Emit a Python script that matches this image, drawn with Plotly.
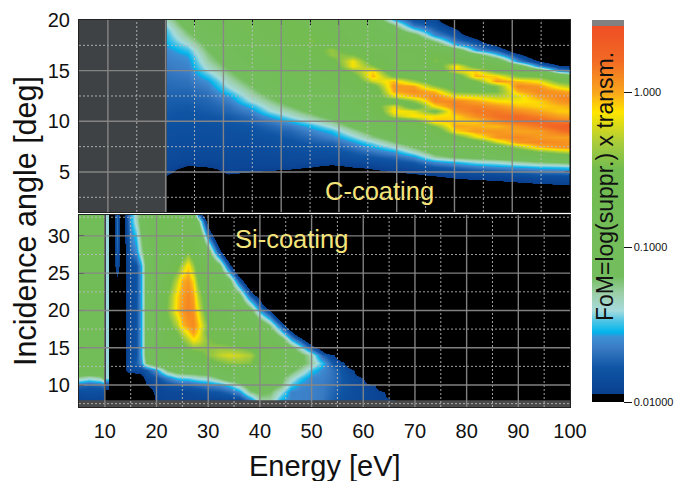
import plotly.graph_objects as go

# ---------- top panel (C-coating): log10(FoM), one list per energy column ----------
# values below the colour range simply read as black
top_energy = [20.2, 23.75, 27.3, 30.9, 34.5, 38, 41.6, 45.2, 48.7, 52.3, 55.9, 59.5, 63, 66.6, 70.2, 73.7, 77.3, 80.9, 84.5, 88, 89.8]
top_angle = [3, 3.5, 4, 4.5, 5, 5.5, 6, 6.5, 7, 7.5, 8, 8.5, 9, 9.5, 10, 10.5, 11, 11.5, 12, 12.5,
             13, 13.5, 14, 14.5, 15, 15.5, 16, 16.5, 17, 17.5, 18, 18.5, 19, 19.5, 20]
top_columns = [
 [-2.27,-2.17,-2.07,-1.97, -1.9,-1.88,-1.87,-1.86, -1.85,-1.85,-1.84,-1.83, -1.82,-1.81,-1.8,-1.78, -1.77,-1.76,-1.75,-1.74, -1.72,-1.71,-1.7,-1.68, -1.67,-1.65,-1.64,-1.62, -1.6,-1.56,-1.53,-1.51, -1.48,-1.42,-1.34],
 [-2.5,-2.45,-2.3,-2.17, -2.07,-1.97,-1.9,-1.88, -1.87,-1.86,-1.85,-1.84, -1.83,-1.82,-1.81,-1.8, -1.78,-1.77,-1.75,-1.74, -1.72,-1.7,-1.68,-1.66, -1.64,-1.62,-1.6,-1.56, -1.5,-1.42,-1.33,-1.25, -1.18,-1.1,-1.05],
 [-2.5,-2.4,-2.25,-2.15, -2.05,-1.95,-1.9,-1.88, -1.87,-1.86,-1.85,-1.84, -1.83,-1.82,-1.8,-1.78, -1.76,-1.74,-1.72,-1.7, -1.67,-1.63,-1.58,-1.5, -1.42,-1.36,-1.3,-1.25, -1.2,-1.14,-1.08,-1.02, -0.98,-0.95,-0.92],
 [-2.31,-2.21,-2.11,-2.01, -1.91,-1.89,-1.88,-1.87, -1.86,-1.85,-1.84,-1.83, -1.82,-1.8,-1.78,-1.76, -1.72,-1.69,-1.64,-1.58, -1.48,-1.4,-1.34,-1.28, -1.22,-1.16,-1.1,-1.04, -1,-0.96,-0.93,-0.9, -0.88,-0.86,-0.84],
 [-2.35,-2.25,-2.15,-2.05, -1.95,-1.9,-1.88,-1.87, -1.86,-1.85,-1.84,-1.82, -1.8,-1.78,-1.74,-1.7, -1.63,-1.54,-1.42,-1.35, -1.28,-1.22,-1.15,-1.08, -1.02,-0.98,-0.94,-0.9, -0.88,-0.86,-0.84,-0.82, -0.8,-0.8,-0.78],
 [-2.37,-2.27,-2.17,-2.07, -1.97,-1.9,-1.88,-1.87, -1.85,-1.84,-1.82,-1.8, -1.76,-1.72,-1.66,-1.55, -1.42,-1.34,-1.26,-1.18, -1.1,-1.04,-0.98,-0.94, -0.9,-0.87,-0.85,-0.83, -0.81,-0.79,-0.77,-0.75, -0.75,-0.74,-0.72],
 [-2.41,-2.31,-2.21,-2.11, -2.01,-1.91,-1.88,-1.86, -1.84,-1.82,-1.8,-1.76, -1.72,-1.65,-1.53,-1.4, -1.3,-1.2,-1.1,-1.02, -0.96,-0.92,-0.88,-0.85, -0.82,-0.8,-0.78,-0.76, -0.74,-0.7,-0.66,-0.62, -0.6,-0.6,-0.62],
 [-2.45,-2.35,-2.25,-2.15, -2.05,-1.95,-1.88,-1.86, -1.83,-1.8,-1.75,-1.7, -1.62,-1.53,-1.38,-1.26, -1.14,-1.04,-0.98,-0.92, -0.88,-0.85,-0.82,-0.8, -0.78,-0.75,-0.72,-0.68, -0.62,-0.52,-0.45,-0.52, -0.6,-0.65,-0.68],
 [-2.49,-2.39,-2.29,-2.19, -2.09,-1.99,-1.9,-1.86, -1.82,-1.78,-1.72,-1.62, -1.52,-1.38,-1.24,-1.12, -1.02,-0.95,-0.9,-0.86, -0.84,-0.82,-0.8,-0.76, -0.72,-0.68,-0.58,-0.4, -0.38,-0.55,-0.68,-0.72, -0.74,-0.75,-0.75],
 [-2.45,-2.35,-2.25,-2.15, -2.05,-1.95,-1.88,-1.82, -1.76,-1.68,-1.58,-1.45, -1.3,-1.16,-1.05,-0.97, -0.92,-0.88,-0.85,-0.82, -0.8,-0.75,-0.7,-0.62, -0.42,-0.15,-0.15,-0.45, -0.65,-0.72,-0.78,-0.8, -0.8,-0.8,-0.82],
 [-2.39,-2.29,-2.19,-2.09, -1.99,-1.92,-1.85,-1.78, -1.68,-1.56,-1.42,-1.25, -1.12,-1.0,-0.92,-0.86, -0.8,-0.65,-0.5,-0.68, -0.74,-0.6,-0.25,-0.03, -0.1,-0.42,-0.62,-0.72, -0.78,-0.82,-0.85,-0.87, -0.88,-0.88,-0.9],
 [-2.35,-2.25,-2.15,-2.05, -1.95,-1.88,-1.82,-1.72, -1.58,-1.4,-1.22,-1.08, -0.98,-0.9,-0.84,-0.3, -0.1,-0.2,-0.72,-0.2, 0.0,0.05,-0.05,-0.5, -0.75,-0.82,-0.82,-0.8, -0.82,-0.85,-0.9,-0.95, -1.05,-1.2,-1.5],
 [-2.31,-2.21,-2.11,-2.01, -1.92,-1.85,-1.76,-1.6, -1.38,-1.2,-1.06,-0.9, -0.88,-0.82,-0.6,-0.12, -0.18,-0.7,-0.4,-0.02, 0.08,0.02,-0.35,-0.65, -0.78,-0.82,-0.82,-0.8, -0.68,-0.78,-0.9,-1.1, -1.42,-1.68,-1.8],
 [-2.27,-2.17,-2.07,-1.97, -1.88,-1.78,-1.6,-1.3, -1.12,-1.0,-0.9,-0.84, -0.75,-0.45,-0.06,-0.12, -0.55,-0.12,0.08,0.1, -0.05,-0.4,-0.68,-0.78, -0.8,-0.7,-0.45,-0.5, -0.8,-1.0,-1.3,-1.6, -1.72,-1.8,-1.85],
 [-2.21,-2.11,-2.01,-1.93, -1.85,-1.72,-1.52,-1.18, -1.02,-0.92,-0.85,-0.6, -0.1,0.0,-0.08,-0.1, 0.05,0.12,0.1,-0.15, -0.5,-0.72,-0.8,-0.72, -0.2,-0.1,-0.6,-0.8, -1.0,-1.5,-1.7,-1.8, -1.9,-2.05,-2.3],
 [-2.19,-2.09,-1.99,-1.91, -1.82,-1.65,-1.42,-1.12, -0.98,-0.88,-0.7,-0.2, 0.03,-0.02,-0.08,0.08, 0.15,0.12,0.0,-0.2, -0.55,-0.72,-0.5,-0.02, -0.1,-0.6,-0.75,-1.05, -1.55,-1.72,-1.88,-2.1, -2.4,-2.8,-3],
 [-2.17,-2.07,-1.97,-1.9, -1.8,-1.6,-1.38,-1.08, -0.92,-0.72,-0.25,0.05, 0.05,-0.05,0.1,0.18, 0.15,0.05,-0.12,-0.3, -0.5,-0.45,0.05,-0.1, -0.55,-0.7,-0.95,-1.45, -1.75,-1.98,-2.3,-2.6, -3,-3,-3],
 [-2.15,-2.05,-1.95,-1.88, -1.75,-1.56,-1.3,-1.0, -0.75,-0.35,0.05,0.1, 0.0,0.05,0.2,0.2, 0.08,-0.05,-0.15,-0.2, -0.02,0.1,-0.05,-0.45, -0.65,-1.0,-1.6,-1.85, -2.15,-2.4,-2.8,-3, -3,-3,-3],
 [-2.13,-2.03,-1.92,-1.85, -1.7,-1.52,-1.22,-0.95, -0.5,-0.05,0.1,0.04, 0.02,0.15,0.22,0.12, 0.0,-0.1,-0.1,0.03, 0.1,0.05,-0.15,-0.5, -0.9,-1.6,-1.95,-2.2, -2.5,-2.8,-3,-3, -3,-3,-3],
 [-2.11,-2.01,-1.9,-1.85, -1.68,-1.5,-1.18,-0.8, -0.35,0.05,0.08,0.02, 0.15,0.26,0.15,0.02, -0.08,-0.05,0.05,0.1, 0.03,-0.2,-0.5,-0.8, -1.55,-1.9,-2.2,-2.5, -2.8,-3,-3,-3, -3,-3,-3],
 [-2.11,-2.01,-1.9,-1.85, -1.66,-1.48,-1.15,-0.75, -0.3,0.07,0.05,0.02, 0.2,0.3,0.12,0.0, -0.08,-0.02,0.08,0.1, -0.03,-0.3,-0.55,-1.0, -1.6,-1.95,-2.25,-2.55, -2.85,-3,-3,-3, -3,-3,-3],
]
top_z = [list(row) for row in zip(*top_columns)]

# ---------- bottom panel (Si-coating): log10(FoM), one list per angle row ----------
bottom_energy = [5, 7, 9, 9.7, 9.9, 10.1, 10.3, 10.7, 10.9, 11.7, 12.3, 12.9, 13.7,
                 14.5, 15, 16, 17, 18,
                 20, 22, 24, 25, 26, 27, 28,
                 30, 32, 34, 36, 38,
                 40, 42, 44, 46, 48,
                 50, 52, 54, 56, 58,
                 60, 62, 64, 66, 68, 100]
bottom_angle = [8, 9, 10, 11, 12, 13, 14, 15, 16, 17, 18, 20, 22, 24, 26, 28, 30, 32, 33]
bottom_left = [
 [-1.9,-1.9,-1.9,-1.9,-2,-2,-2,-2,-2,-2,-2,-2,-2],
 [-1.84,-1.82,-1.84,-1.82,-2,-2,-2,-2,-2,-2,-2,-2,-2],
 [-1.7,-1.75,-1.72,-1.68,-2,-2,-1.85,-1.85,-2,-2,-2,-2,-2],
 [-1.3,-1.38,-1.3,-1.2,-2,-2,-1.42,-1.42,-2,-2,-2,-2,-2],
 [-0.9,-0.9,-0.9,-0.9,-2,-2,-1.42,-1.42,-2,-2,-2,-2,-2],
 [-0.9,-0.9,-0.9,-0.9,-2,-2,-1.42,-1.42,-2,-2,-2,-2,-2],
 [-0.9,-0.9,-0.9,-0.9,-2,-2,-1.42,-1.42,-2,-2,-2,-2,-2],
 [-0.9,-0.9,-0.9,-0.9,-2,-2,-1.42,-1.42,-2,-2,-2,-2,-2],
 [-0.9,-0.9,-0.9,-0.9,-2,-2,-1.42,-1.42,-2,-2,-2,-2,-2],
 [-0.9,-0.9,-0.9,-0.9,-2,-2,-1.42,-1.42,-2,-2,-2,-2,-2],
 [-0.9,-0.9,-0.9,-0.9,-2,-2,-1.42,-1.42,-2,-2,-2,-2,-2],
 [-0.9,-0.9,-0.9,-0.9,-2,-2,-1.42,-1.42,-2,-2,-2,-2,-2],
 [-0.9,-0.9,-0.9,-0.9,-2,-2,-1.42,-1.42,-2,-2,-2,-2,-2],
 [-0.9,-0.9,-0.9,-0.9,-2,-2,-1.42,-1.42,-2,-2,-2,-2,-2],
 [-0.9,-0.9,-0.9,-0.9,-2,-2,-1.42,-1.42,-2,-2,-1.85,-2,-2],
 [-0.9,-0.9,-0.9,-0.9,-2,-2,-1.42,-1.42,-2,-2,-1.75,-2,-2],
 [-0.9,-0.9,-0.9,-0.9,-2,-2,-1.42,-1.42,-2,-2,-1.7,-2,-2],
 [-0.9,-0.9,-0.9,-0.9,-2,-2,-1.42,-1.42,-2,-2,-1.7,-2,-2],
 [-0.9,-0.9,-0.9,-0.9,-2,-2,-1.42,-1.42,-2,-2,-1.7,-2,-2],
]
bottom_right = [
 [-2.6,-2.6,-2.6,-2.6,-2.1, -1.92,-1.9,-1.9,-1.9,-1.9,-1.9,-1.9, -1.9,-1.9,-1.9,-1.88,-1.65, -1.3,-1.3,-1.55,-1.62,-1.63, -1.64,-1.66,-1.74,-1.82,-1.85, -1.87,-1.9,-1.92,-1.94,-2.4,-3],
 [-2.5,-2.5,-2.5,-2.5,-2.05, -1.9,-1.88,-1.88,-1.88,-1.88,-1.86,-1.85, -1.8,-1.78,-1.72,-1.6,-1.25, -1.15,-1.2,-1.4,-1.62,-1.63, -1.64,-1.65,-1.72,-1.8,-1.84, -1.86,-1.9,-1.93,-2.2,-3,-3],
 [-2.3,-2.3,-2.3,-2.2,-1.96, -1.88,-1.82,-1.78,-1.75,-1.75,-1.72,-1.7, -1.65,-1.6,-1.5,-1.3,-1.05, -1.05,-1.1,-1.2,-1.48,-1.6, -1.63,-1.65,-1.7,-1.78,-1.84, -1.88,-1.92,-2.2,-3,-3,-3],
 [-2.1,-2.1,-2.1,-2.05,-1.88, -1.8,-1.65,-1.5,-1.48,-1.46,-1.42,-1.38, -1.35,-1.2,-1.0,-0.95,-0.95, -1,-1.05,-1.15,-1.35,-1.5, -1.62,-1.63,-1.68,-1.78,-1.85, -1.92,-2.45,-3,-3,-3,-3],
 [-1.9,-1.88,-1.85,-1.85,-1.78, -1.55,-1.2,-1.05,-1,-1,-1,-1, -0.95,-0.9,-0.85,-0.85,-0.9, -0.95,-1,-1.05,-1.15,-1.3, -1.5,-1.6,-1.68,-1.8,-1.92, -2.35,-3,-3,-3,-3,-3],
 [-1.85,-1.82,-1.75,-1.6,-1.2, -0.95,-0.9,-0.85,-0.85,-0.8,-0.8,-0.75, -0.6,-0.5,-0.42,-0.4,-0.45, -0.7,-0.85,-0.95,-1.05,-1.15, -1.3,-1.5,-1.76,-1.9,-2.3, -3,-3,-3,-3,-3,-3],
 [-1.88,-1.85,-1.8,-1.55,-1.1, -0.9,-0.85,-0.8,-0.75,-0.7,-0.65,-0.6, -0.42,-0.28,-0.22,-0.25,-0.32, -0.6,-0.8,-0.9,-1,-1.15, -1.35,-1.72,-1.88,-2.25,-3, -3,-3,-3,-3,-3,-3],
 [-1.88,-1.85,-1.8,-1.55,-1.1, -0.9,-0.75,-0.65,-0.6,-0.5,-0.4,-0.4, -0.42,-0.38,-0.4,-0.45,-0.55, -0.7,-0.85,-0.95,-1.1,-1.4, -1.78,-2.1,-2.8,-3,-3, -3,-3,-3,-3,-3,-3],
 [-1.88,-1.85,-1.8,-1.55,-1.1, -0.9,-0.7,-0.6,-0.45,-0.3,-0.15,-0.2, -0.45,-0.55,-0.6,-0.65,-0.7, -0.8,-0.9,-1.05,-1.5,-1.8, -2.25,-3,-3,-3,-3, -3,-3,-3,-3,-3,-3],
 [-1.88,-1.85,-1.8,-1.55,-1.1, -0.9,-0.7,-0.5,-0.3,-0.12,0.02,-0.12, -0.55,-0.65,-0.7,-0.75,-0.8, -0.9,-1,-1.4,-1.82,-2.3, -3,-3,-3,-3,-3, -3,-3,-3,-3,-3,-3],
 [-1.88,-1.85,-1.8,-1.55,-1.1, -0.9,-0.6,-0.3,-0.05,0.05,0.1,-0.05, -0.5,-0.7,-0.75,-0.8,-0.85, -0.95,-1.25,-1.75,-2.3,-3, -3,-3,-3,-3,-3, -3,-3,-3,-3,-3,-3],
 [-1.88,-1.85,-1.8,-1.55,-1.1, -0.9,-0.45,-0.08,0.05,0.12,0.06,-0.18, -0.7,-0.75,-0.8,-0.85,-1.1, -1.6,-1.95,-2.6,-3,-3, -3,-3,-3,-3,-3, -3,-3,-3,-3,-3,-3],
 [-1.88,-1.85,-1.8,-1.55,-1.1, -0.9,-0.5,-0.1,0.02,0.1,0.02,-0.3, -0.75,-0.8,-0.85,-1.1,-1.72, -2.1,-2.8,-3,-3,-3, -3,-3,-3,-3,-3, -3,-3,-3,-3,-3,-3],
 [-1.88,-1.85,-1.8,-1.55,-1.1, -0.88,-0.65,-0.25,-0.02,0.04,-0.1,-0.5, -0.8,-0.85,-1.1,-1.75,-2.3, -3,-3,-3,-3,-3, -3,-3,-3,-3,-3, -3,-3,-3,-3,-3,-3],
 [-1.88,-1.85,-1.8,-1.55,-1.1, -0.88,-0.82,-0.55,-0.3,-0.1,-0.35,-0.7, -0.85,-1.1,-1.8,-2.45,-3, -3,-3,-3,-3,-3, -3,-3,-3,-3,-3, -3,-3,-3,-3,-3,-3],
 [-1.82,-1.7,-1.6,-1.3,-1.05, -0.88,-0.85,-0.8,-0.7,-0.5,-0.7,-0.8, -1.1,-1.85,-2.45,-3,-3, -3,-3,-3,-3,-3, -3,-3,-3,-3,-3, -3,-3,-3,-3,-3,-3],
 [-1.78,-1.62,-1.5,-1.2,-1, -0.85,-0.85,-0.8,-0.8,-0.8,-0.8,-0.85, -1.65,-2.3,-3,-3,-3, -3,-3,-3,-3,-3, -3,-3,-3,-3,-3, -3,-3,-3,-3,-3,-3],
 [-1.72,-1.55,-1.35,-1.1,-0.95, -0.85,-0.85,-0.85,-0.85,-0.85,-0.85,-1.2, -2.1,-2.8,-3,-3,-3, -3,-3,-3,-3,-3, -3,-3,-3,-3,-3, -3,-3,-3,-3,-3,-3],
 [-1.72,-1.55,-1.35,-1.1,-0.95, -0.85,-0.85,-0.85,-0.85,-0.85,-0.85,-1.7, -2.35,-3,-3,-3,-3, -3,-3,-3,-3,-3, -3,-3,-3,-3,-3, -3,-3,-3,-3,-3,-3],
]
bottom_z = [a + b for a, b in zip(bottom_left, bottom_right)]

# ---------- colour scale: (log10 value, colour) ----------
Z_MIN, Z_MAX = -2.0, 0.465
colour_stops = [(-2.0, "#000000"), (-1.95, "#000000"), (-1.95, "#0a3f8f"), (-1.78, "#0f55a5"),
                (-1.65, "#3a7cc4"), (-1.58, "#3d90d5"), (-1.55, "#00b4ec"), (-1.48, "#4cc4e6"),
                (-1.41, "#a6dbdd"), (-1.30, "#9ccfa8"), (-1.19, "#74bd5e"), (-0.5, "#72bc50"),
                (-0.33, "#a8cc3c"), (-0.13, "#ffe500"), (0.0, "#f8a51d"), (0.2, "#f26a25"),
                (0.426, "#ee4e24"), (0.426, "#808080"), (0.465, "#808080")]
colourscale = [[(v - Z_MIN) / (Z_MAX - Z_MIN), c] for v, c in colour_stops]
bar_tick_values = [-2, -1, 0]
bar_tick_text = ["0.01000", "0.1000", "1.000"]

# ---------- axis ticks and labels ----------
top_x_major = [10, 20, 30, 40, 50, 60, 70, 80]
top_x_minor = [15, 25, 35, 45, 55, 65, 75, 85]
top_x_ticks = [10, 15, 20, 25, 30, 35, 40, 45, 50, 55, 60, 65, 70, 75, 80, 85]
top_y_major = [5, 10, 15]
top_y_minor = [2.5, 7.5, 12.5, 17.5]
bottom_x_major = [10, 20, 30, 40, 50, 60, 70, 80, 90]
bottom_x_minor = [15, 25, 35, 45, 55, 65, 75, 85, 95]
bottom_x_labels = [10, 20, 30, 40, 50, 60, 70, 80, 90, 100]
bottom_y_major = [10, 15, 20, 25, 30]
bottom_y_minor = [7.5, 12.5, 17.5, 22.5, 27.5, 32.5]

FONT = "Liberation Sans"
L, R, T, B = 79, 570, 20, 407
W, H = 677, 481
def px(x): return (x - L) / (R - L)
def py(y): return (B - y) / (B - T)

fig = go.Figure()
fig.add_trace(go.Heatmap(x=top_energy, y=top_angle, z=top_z, coloraxis="coloraxis",
                         zsmooth="best", xaxis="x2", yaxis="y2", hoverinfo="skip"))
fig.add_trace(go.Heatmap(x=bottom_energy, y=bottom_angle, z=bottom_z, coloraxis="coloraxis",
                         zsmooth="best", xaxis="x", yaxis="y", hoverinfo="skip"))

MAJOR = dict(color="rgba(135,135,135,0.95)", width=1.4)
MINOR = dict(color="rgba(190,190,190,0.85)", width=1, dash="2px,2px")
shapes = [
    dict(type="rect", xref="x2", yref="y2", x0=5, x1=20.2, y0=1.05, y1=20,
         fillcolor="#3f4244", line_width=0, layer="above"),
    dict(type="rect", xref="x", yref="y", x0=5, x1=100, y0=7.05, y1=7.95,
         fillcolor="#4a4a4a", line_width=0, layer="above"),
]
def vlines(vals, xref, yref, style, lo, hi):
    return [dict(type="line", xref=xref, yref=yref, x0=v, x1=v, y0=lo, y1=hi,
                 line=style, layer="above") for v in vals]
def hlines(vals, xref, yref, style, lo, hi):
    return [dict(type="line", xref=xref, yref=yref, y0=v, y1=v, x0=lo, x1=hi,
                 line=style, layer="above") for v in vals]
shapes += vlines(top_x_minor, "x2", "y2", MINOR, 1.05, 20)
shapes += hlines(top_y_minor, "x2", "y2", MINOR, 5, 90)
shapes += vlines(top_x_major, "x2", "y2", MAJOR, 1.05, 20)
shapes += hlines(top_y_major, "x2", "y2", MAJOR, 5, 90)
shapes += vlines(bottom_x_minor, "x", "y", MINOR, 7.05, 32.8)
shapes += hlines(bottom_y_minor, "x", "y", MINOR, 5, 100)
shapes += vlines(bottom_x_major, "x", "y", MAJOR, 7.05, 32.8)
shapes += hlines(bottom_y_major, "x", "y", MAJOR, 5, 100)

axis_common = dict(showgrid=False, zeroline=False, showline=True, linecolor="#222222", linewidth=1,
                   mirror="allticks", ticks="inside", ticklen=5, tickcolor="#111111",
                   tickfont=dict(family=FONT, size=20, color="#111111"))
annot = lambda text, x, y, size, color="#111111", angle=0: dict(
    text=text, x=px(x), y=py(y), xref="paper", yref="paper", showarrow=False,
    xanchor="center", yanchor="middle", textangle=angle,
    font=dict(family=FONT, size=size, color=color))

fig.update_layout(
    width=W, height=H, paper_bgcolor="white", plot_bgcolor="black", showlegend=False,
    margin=dict(l=L, r=W - R, t=T, b=H - B, pad=0, autoexpand=False),
    xaxis=dict(axis_common, domain=[0, 1], range=[5, 100], tickvals=bottom_x_labels, ticks="",
               anchor="y", ticklabelstandoff=6),
    yaxis=dict(axis_common, domain=[0, (B - 215) / (B - T)], range=[7.05, 32.8],
               tickvals=bottom_y_major, anchor="x", ticklabelstandoff=4),
    xaxis2=dict(axis_common, domain=[0, 1], range=[5, 90], tickvals=top_x_ticks,
                showticklabels=False, anchor="y2"),
    yaxis2=dict(axis_common, domain=[(B - 212) / (B - T), 1], range=[1.05, 20],
                tickvals=top_y_major + [20], anchor="x2", ticklabelstandoff=4),
    coloraxis=dict(
        colorscale=colourscale, cmin=Z_MIN, cmax=Z_MAX,
        colorbar=dict(
            thicknessmode="pixels", thickness=32, lenmode="pixels", len=382,
            x=px(592), xanchor="left", y=1, yanchor="top", xpad=0, ypad=0,
            outlinewidth=0, tickmode="array", tickvals=bar_tick_values, ticktext=bar_tick_text,
            ticks="outside", ticklen=8, tickcolor="#111111", tickwidth=1,
            tickfont=dict(family=FONT, size=11, color="#111111"),
        ),
    ),
    shapes=shapes,
    annotations=[
        annot("Incidence angle [deg]", 25, 221, 30.5, angle=-90),
        annot("Energy [eV]", 325, 466, 29),
        annot("C-coating", 379, 191, 25.5, "#f5e47a"),
        annot("Si-coating", 291, 239, 25.5, "#f5e47a"),
        annot("FoM=log(suppr.) x transm.", 605, 187, 23, angle=-90),
    ],
)
fig.write_html("out.html", config=dict(displayModeBar=False),
               post_script="document.body.style.margin='0';")
